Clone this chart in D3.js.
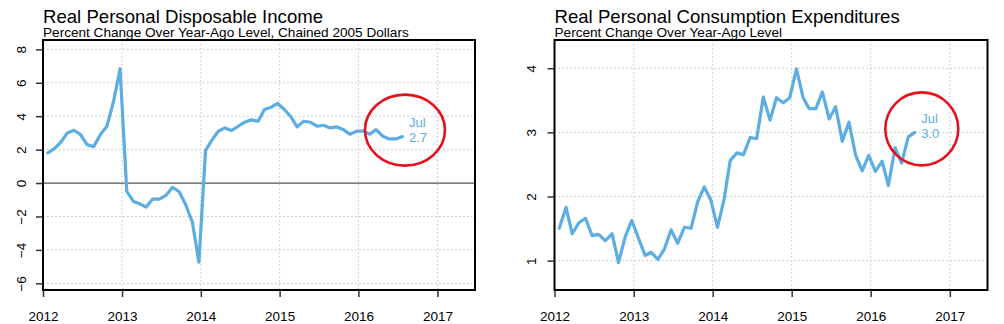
<!DOCTYPE html>
<html><head><meta charset="utf-8">
<script src="https://cdn.jsdelivr.net/npm/d3@7"></script>
<style>
body{margin:0;background:#fff}
svg{display:block}
text{font-family:"Liberation Sans",Arial,Helvetica,sans-serif}
</style>
</head><body>
<svg id="chart" width="1004" height="324"></svg>
<script>
// ---- data ----
const startYear = 2012;
const incomeValues = [
  1.80, 2.06, 2.44, 3.00, 3.16, 2.90, 2.30, 2.18, 2.90, 3.40, 4.90, 6.84,
  -0.50, -1.10, -1.24, -1.44, -0.96, -0.96, -0.74, -0.26, -0.52, -1.30, -2.34, -4.74,
  1.96, 2.60, 3.10, 3.30, 3.14, 3.40, 3.64, 3.78, 3.70, 4.40, 4.54, 4.76,
  4.40, 3.96, 3.36, 3.70, 3.64, 3.40, 3.46, 3.30, 3.36, 3.20, 2.92, 3.10,
  3.12, 2.92, 3.20, 2.80, 2.64, 2.64, 2.78
];
const pceValues = [
  1.505, 1.83, 1.42, 1.59, 1.66, 1.39, 1.41, 1.31, 1.42, 0.97, 1.375, 1.625,
  1.35, 1.08, 1.13, 1.02, 1.18, 1.48, 1.27, 1.52, 1.505, 1.91, 2.15, 1.95,
  1.52, 1.96, 2.56, 2.68, 2.65, 2.92, 2.90, 3.55, 3.19, 3.54, 3.46, 3.54,
  3.99, 3.54, 3.37, 3.37, 3.63, 3.21, 3.40, 2.86, 3.16, 2.65, 2.40, 2.64,
  2.39, 2.55, 2.17, 2.76, 2.52, 2.93, 3.00
];
const incomeTicks = [-6, -4, -2, 0, 2, 4, 6, 8];
const pceTicks = [1, 2, 3, 4];
const yearTicks = [2012, 2013, 2014, 2015, 2016, 2017];
const titles = ["Real Personal Disposable Income", "Real Personal Consumption Expenditures"];
const subtitles = ["Percent Change Over Year-Ago Level, Chained 2005 Dollars", "Percent Change Over Year-Ago Level"];
const lastMonthLabels = ["Jul", "Jul"];
const lastValueLabels = ["2.7", "3.0"];

// ---- styles ----
const lineColor = "#5cade1";
const circleColor = "#e6101b";

const svg = d3.select("#chart");

function monthDates(n) {
  return d3.range(n).map(i => new Date(startYear, i, 23));
}

function drawPanel(cfg) {
  const g = svg.append("g");
  const x = d3.scaleTime()
    .domain([new Date(2012, 0, 1), new Date(2017, 5, 24)])
    .range([cfg.left, cfg.right]);
  const y = d3.scaleLinear().domain(cfg.yDomain).range([cfg.bottom, cfg.top]);
  const dates = monthDates(cfg.values.length);
  const data = cfg.values.map((v, i) => ({date: dates[i], v}));

  // grid
  g.selectAll(".hg").data(cfg.yTicks.filter(t => t !== 0 || !cfg.zeroLine)).enter().append("line")
    .attr("x1", cfg.left).attr("x2", cfg.right)
    .attr("y1", d => y(d)).attr("y2", d => y(d))
    .attr("stroke", "#c4c4c4").attr("stroke-width", 1).attr("stroke-dasharray", "1.5,2.5");
  g.selectAll(".vg").data(yearTicks.slice(1)).enter().append("line")
    .attr("x1", d => x(new Date(d, 0, 1))).attr("x2", d => x(new Date(d, 0, 1)))
    .attr("y1", cfg.top).attr("y2", cfg.bottom)
    .attr("stroke", "#c4c4c4").attr("stroke-width", 1).attr("stroke-dasharray", "1.5,2.5");

  if (cfg.zeroLine) {
    g.append("line").attr("x1", cfg.left).attr("x2", cfg.right)
      .attr("y1", y(0)).attr("y2", y(0))
      .attr("stroke", "#555").attr("stroke-width", 1.3);
  }

  // data line
  g.append("path").datum(data)
    .attr("fill", "none").attr("stroke", lineColor).attr("stroke-width", 3.2)
    .attr("stroke-linejoin", "round").attr("stroke-linecap", "round")
    .attr("d", d3.line().x(d => x(d.date)).y(d => y(d.v)));

  // box
  g.append("rect").attr("x", cfg.left).attr("y", cfg.top)
    .attr("width", cfg.right - cfg.left).attr("height", cfg.bottom - cfg.top)
    .attr("fill", "none").attr("stroke", "#000").attr("stroke-width", 2);

  // y axis
  const yAxis = d3.axisLeft(y).tickValues(cfg.yTicks).tickSize(7).tickPadding(3).tickFormat(d3.format("d"));
  const ya = g.append("g").attr("transform", `translate(${cfg.left},0)`).call(yAxis);
  ya.select(".domain").remove();
  ya.selectAll(".tick line").attr("stroke", "#333").attr("stroke-width", 1.5);
  ya.selectAll(".tick text")
    .attr("font-size", 13.5).attr("fill", "#000")
    .attr("x", null).attr("dy", null)
    .attr("text-anchor", "middle")
    .attr("transform", `translate(${cfg.yLabelX - cfg.left},0) rotate(-90)`);

  // x axis
  const xAxis = d3.axisBottom(x).tickValues(yearTicks.map(yr => new Date(yr, 0, 1)))
    .tickSize(7).tickFormat(d3.timeFormat("%Y"));
  const xa = g.append("g").attr("transform", `translate(0,${cfg.bottom})`).call(xAxis);
  xa.select(".domain").remove();
  xa.selectAll(".tick line").attr("stroke", "#333").attr("stroke-width", 1.5);
  xa.selectAll(".tick text").attr("font-size", 13.5).attr("fill", "#000")
    .attr("y", 30.5).attr("dy", null);

  // titles
  g.append("text").attr("x", cfg.left).attr("y", 22.7)
    .attr("font-size", 18.6).attr("fill", "#000").text(cfg.title);
  g.append("text").attr("x", cfg.left).attr("y", 36.7)
    .attr("font-size", 13.6).attr("fill", "#000").text(cfg.subtitle);

  // last value annotation
  const last = data[data.length - 1];
  const lx = x(last.date), ly = y(last.v);
  g.append("text").attr("x", lx + 6.5).attr("y", ly - 9.7)
    .attr("font-size", 13).attr("fill", lineColor).text(cfg.monthLabel);
  g.append("text").attr("x", lx + 6.5).attr("y", ly + 5.3)
    .attr("font-size", 13).attr("fill", lineColor).text(cfg.valueLabel);
  g.append("ellipse")
    .attr("cx", lx + cfg.ell.dx).attr("cy", ly + cfg.ell.dy)
    .attr("rx", cfg.ell.rx).attr("ry", cfg.ell.ry)
    .attr("fill", "none").attr("stroke", circleColor).attr("stroke-width", 2.6);
}

drawPanel({
  left: 43, right: 475, top: 40, bottom: 290, yLabelX: 25.5,
  yDomain: [-6.4, 8.56], yTicks: incomeTicks, values: incomeValues, zeroLine: true,
  title: titles[0], subtitle: subtitles[0],
  monthLabel: lastMonthLabels[0], valueLabel: lastValueLabels[0],
  ell: {dx: 2.5, dy: -6.5, rx: 40, ry: 35.5}
});
drawPanel({
  left: 554.5, right: 987.5, top: 40, bottom: 290, yLabelX: 535.5,
  yDomain: [0.542, 4.44], yTicks: pceTicks, values: pceValues, zeroLine: false,
  title: titles[1], subtitle: subtitles[1],
  monthLabel: lastMonthLabels[1], valueLabel: lastValueLabels[1],
  ell: {dx: 7, dy: -3.5, rx: 36.5, ry: 36.5}
});
</script>
</body></html>
